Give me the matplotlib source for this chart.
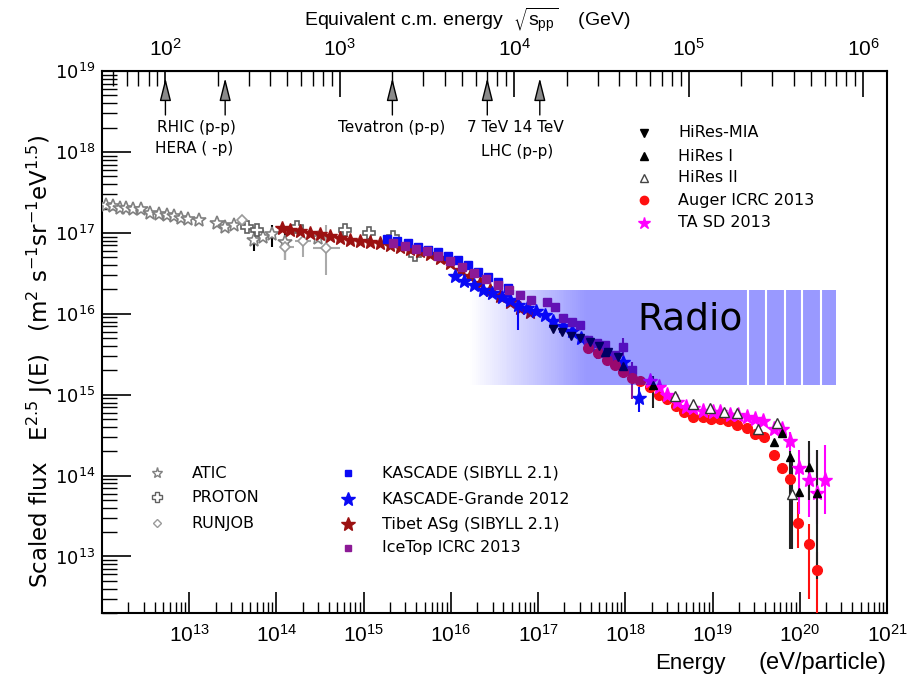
import numpy as np
import matplotlib
matplotlib.use('Agg')
import matplotlib.pyplot as plt
from matplotlib import font_manager
from matplotlib.ticker import LogLocator, FuncFormatter, NullFormatter
from matplotlib.collections import PolyCollection

plt.rcParams['font.family'] = ['DejaVu Sans']


def first_font(names):
    for n in names:
        try:
            font_manager.findfont(font_manager.FontProperties(family=n), fallback_to_default=False)
            return n
        except ValueError:
            pass
    return 'DejaVu Sans'


NARROW = first_font(['Liberation Sans Narrow', 'DejaVu Sans Condensed', 'Liberation Sans'])

# all values as log10(E / eV) and log10(E^2.5 J(E))
atic_logE = [12.05, 12.13, 12.21, 12.28, 12.36, 12.45, 12.55, 12.65, 12.74, 12.83,
             12.91, 12.98, 13.11, 13.32, 13.41, 13.51, 13.74, 13.85, 13.95, 14.10, 14.48]
atic_logF = [17.34, 17.33, 17.31, 17.31, 17.29, 17.30, 17.24, 17.23, 17.22, 17.21,
             17.19, 17.17, 17.16, 17.12, 17.07, 17.10, 16.91, 16.95, 16.99, 16.89, 16.94]
atic_bar_logE = [13.74, 13.95, 14.10]
atic_bar_lo = [16.78, 16.83, 16.67]
atic_bar_hi = [17.05, 17.10, 17.04]

proton_logE = [13.66, 13.78, 14.24, 14.79, 15.06, 15.34, 15.59]
proton_logF = [17.07, 17.03, 17.07, 17.04, 17.00, 16.95, 16.73]

runjob_logE = [13.60, 14.10, 14.30, 14.57]
runjob_logF = [17.16, 16.83, 16.90, 16.81]
runjob_bar_logE = [14.10, 14.30, 14.57]
runjob_bar_lo = [16.67, 16.70, 16.48]
runjob_bar_hi = [16.95, 17.10, 17.10]
runjob_xbar_lo = [14.04, 14.21, 14.42]
runjob_xbar_hi = [14.20, 14.40, 14.73]

tibet_logE = [14.06, 14.16, 14.27, 14.39, 14.50, 14.61, 14.73, 14.84, 14.96, 15.07,
              15.19, 15.30, 15.42, 15.53, 15.65, 15.76, 15.88, 15.99, 16.11, 16.22,
              16.33, 16.45, 16.56, 16.68, 16.79, 16.91]
tibet_logF = [17.06, 17.04, 17.02, 17.00, 16.99, 16.96, 16.94, 16.91, 16.90, 16.89,
              16.88, 16.85, 16.83, 16.80, 16.77, 16.74, 16.69, 16.63, 16.54, 16.47,
              16.38, 16.30, 16.22, 16.15, 16.07, 16.02]

kascade_logE = [15.27, 15.38, 15.51, 15.62, 15.74, 15.85, 15.97, 16.08, 16.20, 16.31,
                16.43, 16.54, 16.66]
kascade_logF = [16.92, 16.90, 16.87, 16.83, 16.79, 16.76, 16.72, 16.67, 16.60, 16.52,
                16.45, 16.39, 16.32]

grande_logE = [16.05, 16.15, 16.27, 16.37, 16.47, 16.58, 16.68, 16.77, 16.87, 16.97,
               17.08, 17.17, 17.29, 17.39, 17.49, 17.60, 17.71, 17.84, 17.97, 18.16]
grande_logF = [16.47, 16.41, 16.35, 16.30, 16.26, 16.21, 16.17, 16.11, 16.07, 16.04,
               15.98, 15.91, 15.85, 15.79, 15.70, 15.62, 15.53, 15.46, 15.40, 14.96]
grande_bar_logE = [16.77, 18.16]
grande_bar_lo = [15.80, 14.78]
grande_bar_hi = [16.20, 15.10]

icetop_logE = [15.34, 15.47, 15.60, 15.73, 15.85, 15.99, 16.13, 16.27, 16.40, 16.54,
               16.67, 16.79, 16.92, 17.10, 17.19, 17.29, 17.39, 17.48, 17.57, 17.68,
               17.77, 17.88, 17.97, 18.08]
icetop_logF = [16.88, 16.84, 16.80, 16.77, 16.72, 16.65, 16.58, 16.51, 16.43, 16.36,
               16.30, 16.23, 16.17, 16.14, 16.09, 15.95, 15.90, 15.86, 15.68, 15.64,
               15.62, 15.49, 15.59, 15.31]
icetop_bar_logE = [17.97, 18.08]
icetop_bar_lo = [15.48, 14.95]
icetop_bar_hi = [15.70, 15.40]

mia_logE = [17.17, 17.27, 17.38, 17.48, 17.60, 17.70, 17.80, 17.91]
mia_logF = [15.81, 15.77, 15.73, 15.70, 15.65, 15.60, 15.53, 15.47]

hires1_logE = [17.77, 17.97, 18.32, 19.70, 19.80, 19.89, 19.99, 20.10, 20.20]
hires1_logF = [15.53, 15.36, 15.12, 14.42, 14.53, 14.23, 13.80, 14.11, 13.79]
hires1_bar_logE = [18.32, 19.89, 20.10, 20.20]
hires1_bar_lo = [14.84, 13.09, 13.70, 12.72]
hires1_bar_hi = [15.23, 14.30, 14.43, 14.32]

hires2_logE = [18.57, 18.78, 18.97, 19.13, 19.28, 19.52, 19.74, 19.91]
hires2_logF = [14.98, 14.89, 14.83, 14.78, 14.77, 14.57, 14.65, 13.77]
hires2_bar_logE = [19.91]
hires2_bar_lo = [13.09]
hires2_bar_hi = [14.20]

auger_logE = [17.57, 17.69, 17.79, 17.88, 17.97, 18.08, 18.17, 18.28, 18.38, 18.48,
              18.58, 18.67, 18.78, 18.89, 18.98, 19.09, 19.18, 19.28, 19.39, 19.49,
              19.59, 19.70, 19.79, 19.89, 19.98, 20.10, 20.20]
auger_logF = [15.58, 15.52, 15.43, 15.37, 15.28, 15.21, 15.17, 15.09, 14.99, 14.95,
              14.86, 14.79, 14.73, 14.73, 14.70, 14.70, 14.68, 14.62, 14.59, 14.52,
              14.48, 14.26, 14.09, 13.96, 13.41, 13.16, 12.83]
auger_bar_logE = [19.89, 19.98, 20.10, 20.20]
auger_bar_lo = [13.85, 13.11, 12.47, 12.30]
auger_bar_hi = [14.05, 13.67, 13.40, 13.05]

ta_logE = [18.28, 18.38, 18.48, 18.59, 18.69, 18.78, 18.89, 19.00, 19.09, 19.20,
           19.29, 19.39, 19.49, 19.58, 19.70, 19.80, 19.89, 19.99, 20.10, 20.20, 20.29]
ta_logF = [15.17, 15.09, 15.00, 14.91, 14.85, 14.83, 14.80, 14.79, 14.78, 14.75,
           14.75, 14.72, 14.70, 14.68, 14.57, 14.58, 14.43, 14.09, 13.95, 13.79, 13.95]
ta_bar_logE = [19.89, 19.99, 20.10, 20.20, 20.29]
ta_bar_lo = [14.30, 13.52, 13.49, 13.40, 13.52]
ta_bar_hi = [14.54, 14.32, 14.28, 14.32, 14.38]

# radio band: fade start, fade end, right edge / bottom, top
radio_logE = [16.22, 17.55, 20.42]
radio_logF = [15.12, 16.30]
radio_seams = [19.41, 19.61, 19.83, 20.03, 20.24]

# accelerators, sqrt(s) in GeV
arrow_sqrts = [100, 220, 2000, 7000, 14000]

M_P = 0.938


def up(v):
    return 10.0 ** np.asarray(v, dtype=float)


def e_to_s(e):
    return np.sqrt(2 * M_P * np.abs(e) / 1e9)


def s_to_e(s):
    return np.asarray(s, dtype=float) ** 2 / (2 * M_P) * 1e9


fig = plt.figure(figsize=(9.11, 6.77), dpi=100)
ax = fig.add_axes([0.112, 0.0945, 0.8617, 0.8005])
ax.set_xscale('log')
ax.set_yscale('log')
ax.set_xlim(1e12, 1e21)
ax.set_ylim(2e12, 1e19)


def pts(logE, logF, **kw):
    ax.plot(up(logE), up(logF), ls='none', **kw)


def bars(logE, lo, hi, color, lw=1.5, z=2):
    ax.vlines(up(logE), up(lo), up(hi), color=color, lw=lw, zorder=z)


# low energy direct measurements
bars(atic_bar_logE, atic_bar_lo, atic_bar_hi, 'black', 1.5)
bars(runjob_bar_logE, runjob_bar_lo, runjob_bar_hi, '#aaaaaa', 1.5)
ax.hlines(up(runjob_logF[1:]), up(runjob_xbar_lo), up(runjob_xbar_hi), color='#aaaaaa', lw=1.5)
pts(atic_logE, atic_logF, marker='*', ms=10, mfc='white', mec='#808080', mew=1.2, zorder=3)
pts(proton_logE, proton_logF, marker='P', ms=9, mfc='white', mec='#606060', mew=1.2, zorder=3)
pts(runjob_logE, runjob_logF, marker='D', ms=5, mfc='white', mec='#9a9a9a', mew=1.2, zorder=3)

# air shower arrays
pts(tibet_logE, tibet_logF, marker='*', ms=10, color='#9b1111', zorder=3)
pts(kascade_logE, kascade_logF, marker='s', ms=6, color='#0a0af5', zorder=4)
bars(grande_bar_logE, grande_bar_lo, grande_bar_hi, '#0a0af5', 1.5, 4)
pts(grande_logE, grande_logF, marker='*', ms=10, color='#0a0af5', zorder=4)
bars(icetop_bar_logE, icetop_bar_lo, icetop_bar_hi, '#8c1a96', 1.5, 5)
pts(icetop_logE, icetop_logF, marker='s', ms=6, color='#8c1a96', zorder=5)

# UHECR
bars(auger_bar_logE, auger_bar_lo, auger_bar_hi, '#ff1010', 1.5, 4)
bars(ta_bar_logE, ta_bar_lo, ta_bar_hi, '#ff00ff', 1.5, 4)
bars(hires1_bar_logE, hires1_bar_lo, hires1_bar_hi, '#222222', 1.5, 4)
bars(hires2_bar_logE, hires2_bar_lo, hires2_bar_hi, '#222222', 1.5, 4)
pts(auger_logE, auger_logF, marker='o', ms=7, color='#ff1010', zorder=5)
pts(ta_logE, ta_logF, marker='*', ms=11, color='#ff00ff', zorder=5)
pts(mia_logE, mia_logF, marker='v', ms=6, color='black', zorder=6)
pts(hires1_logE, hires1_logF, marker='^', ms=6, color='black', zorder=6)
pts(hires2_logE, hires2_logF, marker='^', ms=7, mfc='white', mec='#333333', mew=1.0, zorder=6)

# radio band, drawn on top with transparency
edges = list(np.linspace(radio_logE[0], radio_logE[1], 60)) + [radio_logE[2]]
verts, cols = [], []
for i in range(len(edges) - 1):
    x0, x1 = 10 ** edges[i], 10 ** edges[i + 1]
    y0, y1 = up(radio_logF)
    verts.append([(x0, y0), (x1, y0), (x1, y1), (x0, y1)])
    frac = min(1.0, (i + 0.5) / 59)
    cols.append((0.0, 0.0, 1.0, 0.4 * frac))
ax.add_collection(PolyCollection(verts, facecolors=cols, edgecolors='none',
                                 antialiased=False, zorder=8))
ax.vlines(up(radio_seams), *up(radio_logF), color='white', lw=1.5, zorder=9)
ax.text(10 ** 18.74, 10 ** 15.93, 'Radio', fontsize=27, ha='center', va='center', zorder=10)


def pow_label(lo, hi):
    def f(v, p):
        if v < lo or v > hi:
            return ''
        return r'$\mathregular{10^{%d}}$' % round(np.log10(v))
    return FuncFormatter(f)


# axes and ticks
for sp in ax.spines.values():
    sp.set_linewidth(1.5)
ax.xaxis.set_major_locator(LogLocator(base=10, numticks=20))
ax.xaxis.set_minor_locator(LogLocator(base=10, subs=np.arange(2, 10), numticks=20))
ax.yaxis.set_major_locator(LogLocator(base=10, numticks=20))
ax.yaxis.set_minor_locator(LogLocator(base=10, subs=np.arange(2, 10), numticks=20))
ax.xaxis.set_minor_formatter(NullFormatter())
ax.yaxis.set_minor_formatter(NullFormatter())
ax.xaxis.set_major_formatter(pow_label(5e12, 2e21))
ax.yaxis.set_major_formatter(pow_label(5e12, 2e19))
ax.tick_params(top=False, right=False)
ax.tick_params(axis='x', which='major', direction='in', length=15, width=1.2, pad=8,
               labelsize=15, labelfontfamily=NARROW)
ax.tick_params(axis='x', which='minor', direction='in', length=8, width=1.0)
ax.tick_params(axis='y', which='major', direction='in', length=21, width=1.2, pad=5, labelsize=13)
ax.tick_params(axis='y', which='minor', direction='in', length=11, width=1.0)

sec = ax.secondary_xaxis('top', functions=(e_to_s, s_to_e))
sec.xaxis.set_major_locator(LogLocator(base=10, numticks=20))
sec.xaxis.set_minor_locator(LogLocator(base=10, subs=np.arange(2, 10), numticks=20))
sec.xaxis.set_minor_formatter(NullFormatter())
sec.xaxis.set_major_formatter(pow_label(50, 2e6))
sec.tick_params(axis='x', which='major', direction='in', length=19, width=1.2, pad=8,
                labelsize=15, labelfontfamily=NARROW)
sec.tick_params(axis='x', which='minor', direction='in', length=11, width=1.0)

# accelerator arrows
for s in arrow_sqrts:
    x = s_to_e(s)
    ax.annotate('', xy=(x, 0.987), xytext=(x, 0.919), xycoords=('data', 'axes fraction'),
                arrowprops=dict(arrowstyle='-|>,head_length=1.4,head_width=0.35',
                                fc='#8a8a8a', ec='black', lw=1.0, shrinkA=0, shrinkB=0))
tx = dict(transform=ax.transAxes, fontsize=11, va='center')
ax.text(0.070, 0.895, 'RHIC (p-p)', ha='left', **tx)
ax.text(0.067, 0.858, 'HERA ( -p)', ha='left', **tx)
ax.text(0.369, 0.895, 'Tevatron (p-p)', ha='center', **tx)
ax.text(0.465, 0.895, '7 TeV 14 TeV', ha='left', **tx)
ax.text(0.529, 0.851, 'LHC (p-p)', ha='center', **tx)


# legends
def key(fx, fy, label, **kw):
    ax.plot([fx], [fy], transform=ax.transAxes, clip_on=False, ls='none', **kw)
    ax.text(fx + 0.044, fy, label, transform=ax.transAxes, fontsize=11.5, va='center')


key(0.690, 0.886, 'HiRes-MIA', marker='v', ms=6, color='black')
key(0.690, 0.843, 'HiRes I', marker='^', ms=6, color='black')
key(0.690, 0.803, 'HiRes II', marker='^', ms=6, mfc='white', mec='#444444')
key(0.690, 0.762, 'Auger ICRC 2013', marker='o', ms=6, color='#ff1010')
key(0.690, 0.720, 'TA SD 2013', marker='*', ms=9, color='#ff00ff')

key(0.070, 0.258, 'ATIC', marker='*', ms=8, mfc='white', mec='#808080')
key(0.070, 0.214, 'PROTON', marker='P', ms=7, mfc='white', mec='#606060')
key(0.070, 0.166, 'RUNJOB', marker='D', ms=4, mfc='white', mec='#9a9a9a')

key(0.313, 0.258, 'KASCADE (SIBYLL 2.1)', marker='s', ms=5, color='#0a0af5')
key(0.313, 0.210, 'KASCADE-Grande 2012', marker='*', ms=10, color='#0a0af5')
key(0.313, 0.164, 'Tibet ASg (SIBYLL 2.1)', marker='*', ms=10, color='#9b1111')
key(0.313, 0.120, 'IceTop ICRC 2013', marker='s', ms=5, color='#8c1a96')

# axis titles
fig.text(467 / 911, 1 - 20 / 677, r'Equivalent c.m. energy  $\sqrt{\mathregular{s_{pp}}}$    (GeV)',
         ha='center', va='center', fontsize=14, family=NARROW)
fig.text(655 / 911, 1 - 663 / 677, 'Energy', ha='left', va='center', fontsize=16, family=NARROW)
fig.text(886 / 911, 1 - 663 / 677, '(eV/particle)', ha='right', va='center', fontsize=17, family=NARROW)
fig.text(40 / 911, 1 - 361 / 677,
         r'Scaled flux   E$^{2.5}$ J(E)   (m$^{2}$ s$^{-1}$sr$^{-1}$eV$^{1.5}$)',
         rotation=90, ha='center', va='center', fontsize=16.5)

fig.savefig('out.png', dpi=100)
